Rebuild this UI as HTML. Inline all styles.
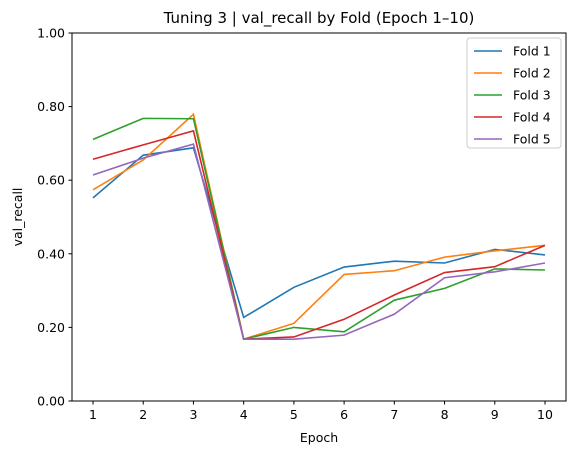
<!DOCTYPE html>
<html><head><meta charset="utf-8"><style>
body{margin:0;background:#fff}
svg{display:block;font-family:"DejaVu Sans","Liberation Sans",sans-serif}
</style></head><body>
<svg id="chart" width="576" height="455" viewBox="0 0 576 455">
<rect width="576" height="455" fill="#fff"/>
<text x="319" y="23" text-anchor="middle" font-size="15" fill="#000">Tuning 3 | val_recall by Fold (Epoch 1–10)</text>
<g id="axes"></g>
<g id="lines"></g>
<rect x="72" y="33" width="494" height="368" fill="none" stroke="#000" stroke-width="1"/>
<text x="319" y="442" text-anchor="middle" font-size="12.5">Epoch</text>
<text x="0" y="0" transform="translate(22,217) rotate(-90)" text-anchor="middle" font-size="12.5">val_recall</text>
<g id="legend"></g>
</svg>
<script>
const epochs=[1,2,3,4,5,6,7,8,9,10];
const yTicks=[0,0.2,0.4,0.6,0.8,1.0];
const foldNames=["Fold 1","Fold 2","Fold 3","Fold 4","Fold 5"];
const fold1=[0.552,0.668,0.688,0.227,0.309,0.364,0.380,0.375,0.412,0.397];
const fold2=[0.574,0.655,0.779,0.168,0.211,0.344,0.354,0.391,0.408,0.423];
const fold3=[0.711,0.768,0.767,0.168,0.200,0.188,0.274,0.306,0.359,0.356];
const fold4=[0.657,0.696,0.734,0.168,0.174,0.222,0.288,0.349,0.365,0.423];
const fold5=[0.614,0.660,0.698,0.168,0.168,0.179,0.236,0.335,0.351,0.375];
const series=[fold1,fold2,fold3,fold4,fold5];
const colors=["#1f77b4","#ff7f0e","#2ca02c","#d62728","#9467bd"];
const NS="http://www.w3.org/2000/svg";
const x=e=>93+(e-1)*(545-93)/9;
const y=v=>401-v*368;
function mk(t,a,p){const el=document.createElementNS(NS,t);for(const k in a)el.setAttribute(k,a[k]);p.appendChild(el);return el;}
const axes=document.getElementById('axes');
epochs.forEach(e=>{
 const t=mk('line',{x1:x(e),x2:x(e),y1:401,y2:404.5,stroke:'#000'},axes);
 
 
 const l=mk('text',{x:x(e),y:419,'text-anchor':'middle','font-size':12.5},axes);
 l.textContent=e;
 
 
});
yTicks.forEach(v=>{
 const t=mk('line',{x1:68.5,x2:72,y1:y(v),y2:y(v),stroke:'#000'},axes);
 
 
 const l=mk('text',{x:65,y:y(v)+4.5,'text-anchor':'end','font-size':12.5},axes);
 l.textContent=v.toFixed(2);
 
 
});
const lines=document.getElementById('lines');
series.forEach((s,i)=>{
 const p=mk('polyline',{points:s.map((v,j)=>x(epochs[j])+','+y(v)).join(' '),fill:'none',stroke:colors[i],'stroke-width':1.6},lines);
 
 
});
const lg=document.getElementById('legend');
const box=mk('rect',{x:467,y:38,width:94,height:110,rx:3,fill:'#fff',stroke:'#ccc'},lg);


foldNames.forEach((n,i)=>{
 const cy=51+i*22;
 const ln=mk('line',{x1:474,x2:502,y1:cy,y2:cy,stroke:colors[i],'stroke-width':1.6},lg);
 
 
 const t=mk('text',{x:513,y:cy+4.5,'font-size':12.5},lg);
 t.textContent=n;
 
 
});
</script>
</body></html>
